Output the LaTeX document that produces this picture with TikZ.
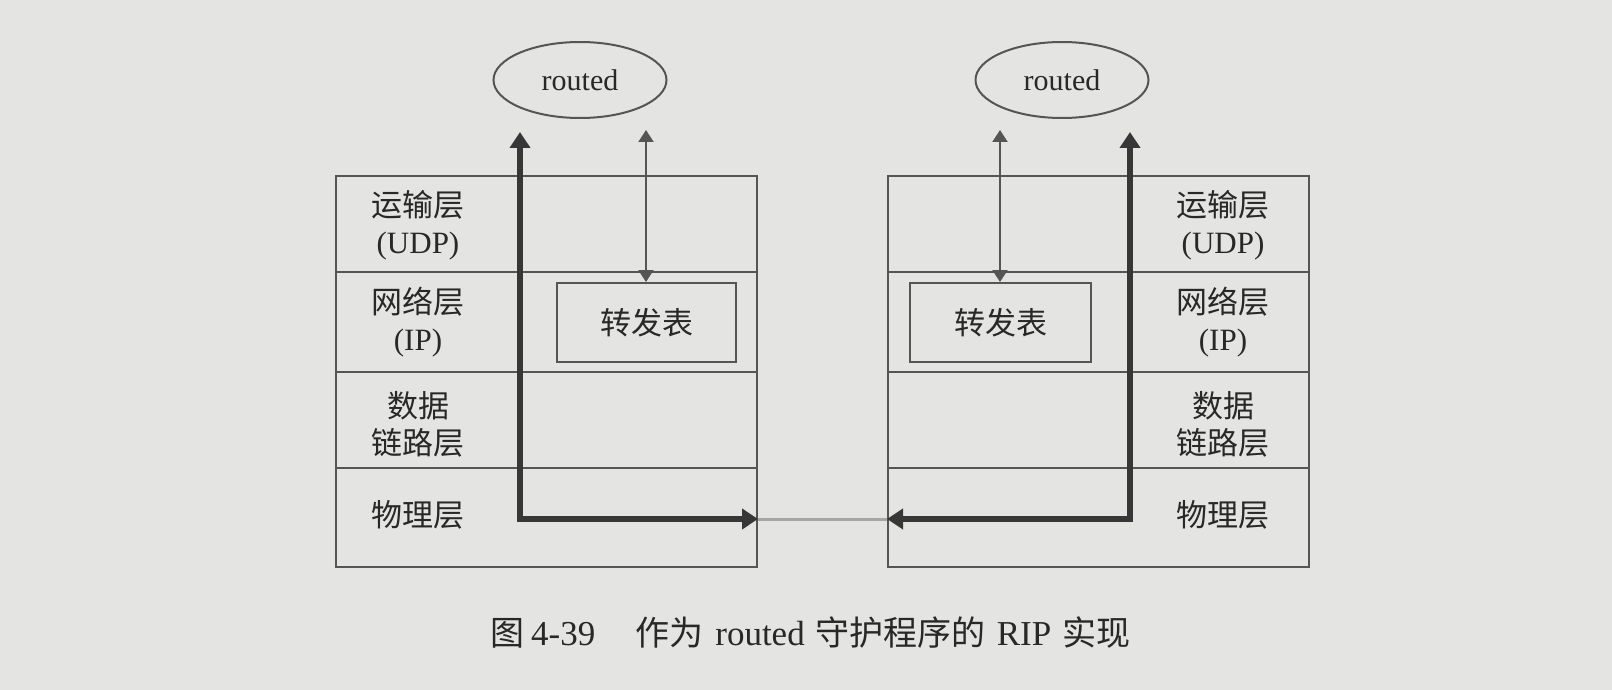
\documentclass[tikz,border=0pt]{standalone}
\usepackage{fontspec}
\setmainfont{Liberation Serif}
\newfontfamily\cjk{Noto Sans CJK SC}
\usetikzlibrary{arrows.meta,shapes.geometric}
\definecolor{bg}{RGB}{228,228,226}
\definecolor{ln}{RGB}{85,85,85}
\definecolor{ink}{RGB}{40,40,40}
\definecolor{thk}{RGB}{55,55,55}
\definecolor{lnk}{RGB}{165,165,165}
\newcommand{\capcjk}[1]{{\fontsize{34}{40}\selectfont\cjk #1}}
\begin{document}
\begin{tikzpicture}[x=1pt,y=-1pt,
  layer/.style={draw=ln, line width=2pt, minimum width=421pt, inner sep=0pt, anchor=north west},
  tbl/.style={draw=ln, line width=2pt, inner sep=0pt, anchor=north west, text=ink,
    font=\fontsize{31}{36}\selectfont\cjk},
  ell/.style={draw=ln, line width=2pt, ellipse, inner sep=0pt, minimum width=173pt, minimum height=76pt,
    text=ink, font=\fontsize{30}{34}\selectfont},
  lbl/.style={align=center, text=ink, inner sep=0pt, font=\fontsize{31}{37}\selectfont},
  thickarr/.style={draw=thk, line width=6pt, {Triangle[length=16pt,width=20pt]}-{Triangle[length=16pt,width=20pt]}},
  thinarr/.style={draw=ln, line width=2pt, {Triangle[length=12pt,width=15pt]}-{Triangle[length=12pt,width=15pt]}},
  link/.style={draw=lnk, line width=3pt}]
\fill[bg] (0,0) rectangle (1612,690);
\useasboundingbox (0,0) rectangle (1612,690);
% left stack
\node[layer, minimum height=96pt] (uL) at (335,175) {};
\node[layer, minimum height=100pt] (iL) at (335,271) {};
\node[layer, minimum height=96pt] (dL) at (335,371) {};
\node[layer, minimum height=99pt] (pL) at (335,467) {};
% right stack
\node[layer, minimum height=96pt] (uR) at (887,175) {};
\node[layer, minimum height=100pt] (iR) at (887,271) {};
\node[layer, minimum height=96pt] (dR) at (887,371) {};
\node[layer, minimum height=99pt] (pR) at (887,467) {};
% labels
\node[lbl] (luL) at (418,225) {{\cjk 运输层}\\(UDP)};
\node[lbl] (liL) at (418,322) {{\cjk 网络层}\\(IP)};
\node[lbl] (ldL) at (418,424) {{\cjk 数据}\\{\cjk 链路层}};
\node[lbl] (lpL) at (418,515) {\cjk 物理层};
\node[lbl] (luR) at (1223,225) {{\cjk 运输层}\\(UDP)};
\node[lbl] (liR) at (1223,322) {{\cjk 网络层}\\(IP)};
\node[lbl] (ldR) at (1223,424) {{\cjk 数据}\\{\cjk 链路层}};
\node[lbl] (lpR) at (1223,515) {\cjk 物理层};
% forwarding tables
\node[tbl, minimum width=179pt, minimum height=79pt] (tL) at (556,282) {转发表};
\node[tbl, minimum width=181pt, minimum height=79pt] (tR) at (909,282) {转发表};
% routed
\node[ell] (eL) at (580,80) {routed};
\node[ell] (eR) at (1062,80) {routed};
% coordinates
\coordinate (aL) at (520,132);
\coordinate (cL) at (520,519);
\coordinate (aR) at (1130,132);
\coordinate (cR) at (1130,519);
\coordinate (bL) at (646,130);
\coordinate (bR) at (1000,130);
% link between stacks
\draw[link] (pL.east |- cL) -- (pR.west |- cR);
% arrows
\draw[thickarr] (aL) -- (cL) -- (pL.east |- cL);
\draw[thickarr] (aR) -- (cR) -- (pR.west |- cR);
\draw[thinarr] (bL) -- (bL |- tL.north);
\draw[thinarr] (bR) -- (bR |- tR.north);
% caption
\node[text=ink, inner sep=0pt, anchor=west, font=\fontsize{35}{40}\selectfont] (cap) at (490,633)
  {\capcjk{图}\hspace{7pt}4-39\hspace{40pt}\capcjk{作为}\hspace{12pt}routed\hspace{11pt}\capcjk{守护程序的}\hspace{11pt}RIP\hspace{11pt}\capcjk{实现}};
\end{tikzpicture}
\end{document}
